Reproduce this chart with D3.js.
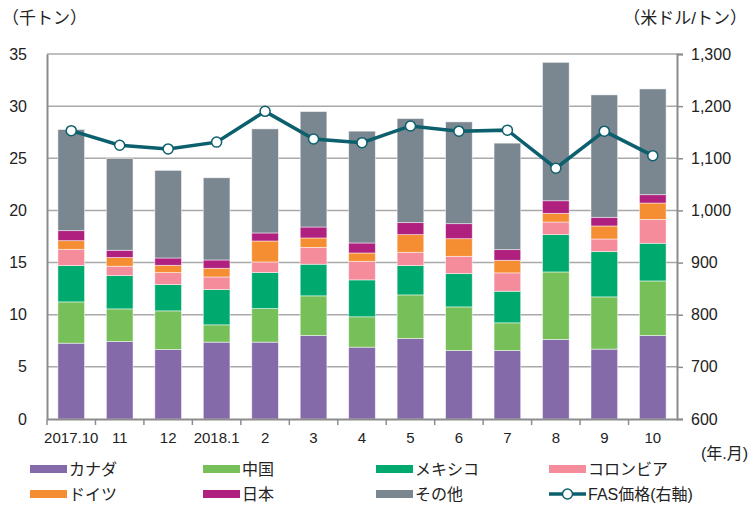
<!DOCTYPE html>
<html>
<head>
<meta charset="utf-8">
<script src="https://cdn.jsdelivr.net/npm/d3@7"></script>
<style>
  body { margin: 0; background: #fff; }
  svg text { font-family: "Liberation Sans", Arial, "Noto Sans CJK JP", sans-serif; fill: #222; }
</style>
</head>
<body>
<svg id="chart"></svg>
<script>
const width = 749;
const height = 512;
const margin = { top: 54, right: 72, bottom: 93, left: 47 };

// month labels
const months = ["2017.10", "11", "12", "2018.1", "2", "3", "4", "5", "6", "7", "8", "9", "10"];

// series (thousand tonnes)
const canada   = [7.27, 7.43, 6.67, 7.37, 7.37, 8.01, 6.89, 7.72, 6.57, 6.57, 7.63, 6.70, 8.01];
const china    = [3.96, 3.13, 3.70, 1.66, 3.22, 3.80, 2.91, 4.18, 4.18, 2.65, 6.47, 5.01, 5.23];
const mexico   = [3.48, 3.19, 2.52, 3.38, 3.45, 3.03, 3.54, 2.81, 3.19, 3.03, 3.58, 4.34, 3.61];
const colombia = [1.56, 0.90, 1.15, 1.21, 1.02, 1.62, 1.78, 1.28, 1.66, 1.76, 1.21, 1.21, 2.29];
const germany  = [0.83, 0.83, 0.70, 0.83, 2.01, 0.90, 0.80, 1.69, 1.69, 1.21, 0.83, 1.25, 1.57];
const japan    = [0.96, 0.70, 0.70, 0.80, 0.77, 1.05, 0.96, 1.15, 1.44, 1.02, 1.21, 0.83, 0.80];
const others   = [9.70, 8.80, 8.40, 7.88, 9.98, 11.07, 10.72, 9.98, 9.76, 10.21, 13.27, 11.74, 10.14];

// FAS price (USD/t, right axis)
const fasPrice = [1153, 1125, 1118, 1131, 1190, 1137, 1130, 1162, 1152, 1154, 1081, 1152, 1105];

const seriesNames = ["カナダ", "中国", "メキシコ", "コロンビア", "ドイツ", "日本", "その他"];
const seriesData = [canada, china, mexico, colombia, germany, japan, others];
const seriesColors = ["#856AAA", "#77C059", "#00AA6E", "#F48C9C", "#F58E33", "#B0207F", "#7A8790"];
const lineName = "FAS価格(右軸)";
const lineColor = "#0C5F6D";

const leftTicks = [0, 5, 10, 15, 20, 25, 30, 35];
const rightTicks = [600, 700, 800, 900, 1000, 1100, 1200, 1300];

const innerW = width - margin.left - margin.right;
const innerH = height - margin.top - margin.bottom;

const svg = d3.select("#chart").attr("width", width).attr("height", height);
const g = svg.append("g").attr("transform", `translate(${margin.left},${margin.top})`);

const x = d3.scaleBand().domain(months).range([0, innerW]).paddingInner(0.45).paddingOuter(0.225);
const xb = d3.scaleBand().domain(months).range([0, innerW]);
const y = d3.scaleLinear().domain([0, 35]).range([innerH, 0]);
const y2 = d3.scaleLinear().domain([600, 1300]).range([innerH, 0]);

// table for stacking
const table = months.map((m, i) => {
    const row = { month: m };
    seriesNames.forEach((s, k) => { row[s] = seriesData[k][i]; });
    return row;
});
const stacked = d3.stack().keys(seriesNames)(table);

// gridlines
g.append("g")
    .selectAll("line")
    .data(leftTicks.slice(1))
    .enter()
    .append("line")
    .attr("x1", 0).attr("x2", innerW)
    .attr("y1", d => y(d)).attr("y2", d => y(d))
    .style("stroke", "#A9A9A9")
    .style("stroke-width", 1.5);

// bars
g.selectAll(".layer")
    .data(stacked)
    .enter()
    .append("g")
    .attr("class", "layer")
    .style("fill", (d, i) => seriesColors[i])
    .selectAll("rect")
    .data(d => d)
    .enter()
    .append("rect")
    .attr("x", d => x(d.data.month))
    .attr("width", x.bandwidth())
    .attr("y", d => y(d[1]))
    .attr("height", d => y(d[0]) - y(d[1]))
    .style("stroke", "rgba(255,255,255,0.6)")
    .style("stroke-width", 0.8);

// axes
const xAxis = g.append("g")
    .attr("transform", `translate(0,${innerH})`)
    .call(d3.axisBottom(xb).tickSize(0).tickPadding(13));
xAxis.select(".domain").style("stroke", "#8C8C8C").style("stroke-width", 2);
xAxis.selectAll("text").style("font-size", "15px");
// tick marks at band boundaries
xAxis.selectAll(".sep")
    .data(months)
    .enter()
    .append("line")
    .attr("class", "sep")
    .attr("x1", d => xb(d)).attr("x2", d => xb(d))
    .attr("y1", 0).attr("y2", 6)
    .style("stroke", "#8C8C8C").style("stroke-width", 1.5);

const yAxis = g.append("g")
    .call(d3.axisLeft(y).tickValues(leftTicks).tickSize(0).tickPadding(20));
yAxis.select(".domain").style("stroke", "#8C8C8C").style("stroke-width", 2);
yAxis.selectAll("text").style("font-size", "16px");

const yAxis2 = g.append("g")
    .attr("transform", `translate(${innerW},0)`)
    .call(d3.axisRight(y2).tickValues(rightTicks).tickSize(6).tickPadding(8).tickFormat(d3.format(",")));
yAxis2.select(".domain").style("stroke", "#8C8C8C").style("stroke-width", 2);
yAxis2.selectAll("line").style("stroke", "#8C8C8C").style("stroke-width", 1.5);
yAxis2.selectAll("text").style("font-size", "16px");

// price line
const line = d3.line()
    .x((d, i) => xb(months[i]) + xb.bandwidth() / 2)
    .y(d => y2(d));

g.append("path")
    .datum(fasPrice)
    .attr("d", line)
    .style("fill", "none")
    .style("stroke", lineColor)
    .style("stroke-width", 3.5);

g.selectAll(".marker")
    .data(fasPrice)
    .enter()
    .append("circle")
    .attr("class", "marker")
    .attr("cx", (d, i) => xb(months[i]) + xb.bandwidth() / 2)
    .attr("cy", d => y2(d))
    .attr("r", 5)
    .style("fill", "#fff")
    .style("stroke", lineColor)
    .style("stroke-width", 1.5);

// unit labels
svg.append("text").attr("x", 2).attr("y", 24).style("font-size", "17px").text("（千トン）");
svg.append("text").attr("x", 747).attr("y", 24).attr("text-anchor", "end").style("font-size", "17px").text("（米ドル/トン）");
svg.append("text").attr("x", 748).attr("y", 459).attr("text-anchor", "end").style("font-size", "16px").text("(年.月)");

// legend
const legendItems = seriesNames.concat([lineName]);
const legend = svg.append("g");
const lg = legend.selectAll("g")
    .data(legendItems)
    .enter()
    .append("g")
    .attr("transform", (d, i) => `translate(${30 + (i % 4) * 173},${469 + Math.floor(i / 4) * 25})`);

lg.each(function (d, i) {
    const item = d3.select(this);
    if (i < seriesNames.length) {
        item.append("rect")
            .attr("x", 0).attr("y", -4)
            .attr("width", 37).attr("height", 8)
            .style("fill", seriesColors[i]);
    } else {
        item.append("line")
            .attr("x1", 0).attr("x2", 37).attr("y1", 0).attr("y2", 0)
            .style("stroke", lineColor).style("stroke-width", 3.5);
        item.append("circle")
            .attr("cx", 18.5).attr("cy", 0).attr("r", 5)
            .style("fill", "#fff").style("stroke", lineColor).style("stroke-width", 1.5);
    }
    item.append("text")
        .attr("x", 39).attr("y", 6)
        .style("font-size", "16px")
        .text(d);
});
</script>
</body>
</html>
